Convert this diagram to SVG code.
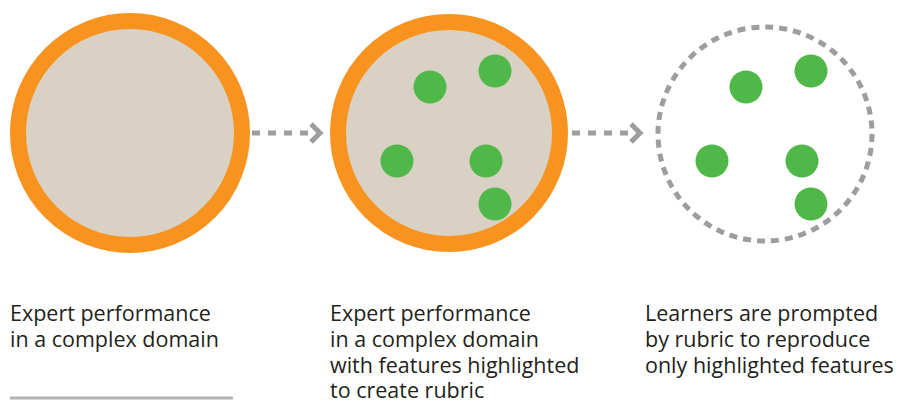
<svg xmlns="http://www.w3.org/2000/svg" width="901" height="402" viewBox="0 0 901 402">
  <style>
    .disc { fill: #d9d1c3; stroke: #f7931e; stroke-width: 16; }
    .ring { fill: none; stroke: #9d9d9d; stroke-width: 5; stroke-dasharray: 8 6; }
    .dot { fill: #50b848; }
    .flow { fill: none; stroke: #9d9d9d; stroke-width: 5; stroke-dasharray: 8 8; }
    .head { fill: none; stroke: #9d9d9d; stroke-width: 5; stroke-linejoin: miter; }
    .label { font-family: "Open Sans", "Noto Sans", sans-serif; font-size: 21.5px; fill: #231f20; }
  </style>

  <!-- stage 1: the whole domain -->
  <g id="stage-domain">
    <circle class="disc" cx="130" cy="133" r="112"/>
  </g>

  <!-- stage 2: domain with highlighted features -->
  <g id="stage-rubric">
    <circle class="disc" cx="449" cy="133" r="111"/>
    <circle class="dot" cx="430" cy="87" r="16.5"/>
    <circle class="dot" cx="495" cy="71" r="16.5"/>
    <circle class="dot" cx="397" cy="161" r="16.5"/>
    <circle class="dot" cx="486" cy="161" r="16.5"/>
    <circle class="dot" cx="495" cy="204" r="16.5"/>
  </g>

  <!-- stage 3: only the highlighted features remain -->
  <g id="stage-learners">
    <circle class="ring" cx="765" cy="134" r="107"/>
    <circle class="dot" cx="746" cy="87" r="16.5"/>
    <circle class="dot" cx="811" cy="71" r="16.5"/>
    <circle class="dot" cx="712" cy="161" r="16.5"/>
    <circle class="dot" cx="802" cy="161" r="16.5"/>
    <circle class="dot" cx="811" cy="204" r="16.5"/>
  </g>

  <!-- connectors between stages -->
  <g id="connectors">
    <line class="flow" x1="252" y1="133" x2="310" y2="133"/>
    <polyline class="head" points="311,124 320,133 311,142"/>
    <line class="flow" x1="572" y1="133" x2="630" y2="133"/>
    <polyline class="head" points="631,124 640,133 631,142"/>
  </g>

  <!-- captions -->
  <g id="caption-domain">
    <text class="label" x="10" y="321">Expert performance</text>
    <text class="label" x="10" y="347">in a complex domain</text>
    <line x1="10" y1="398" x2="233" y2="398" stroke="#b3b3b3" stroke-width="3"/>
  </g>
  <g id="caption-rubric">
    <text class="label" x="330" y="321">Expert performance</text>
    <text class="label" x="330" y="347">in a complex domain</text>
    <text class="label" x="330" y="373">with features highlighted</text>
    <text class="label" x="330" y="398">to create rubric</text>
  </g>
  <g id="caption-learners">
    <text class="label" x="645" y="321">Learners are prompted</text>
    <text class="label" x="645" y="347">by rubric to reproduce</text>
    <text class="label" x="645" y="373">only highlighted features</text>
  </g>
</svg>
